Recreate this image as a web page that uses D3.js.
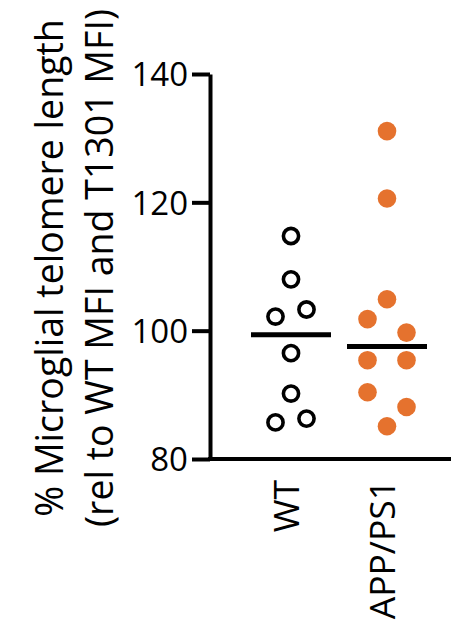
<!DOCTYPE html>
<html>
<head>
<meta charset="utf-8">
<script src="https://cdn.jsdelivr.net/npm/d3@7"></script>
<style>
  html, body { margin: 0; padding: 0; background: #fff; }
  text { font-family: "Open Sans", "Noto Sans", sans-serif; fill: #000; }
</style>
</head>
<body>
<svg width="451" height="631"></svg>
<script>
// data
const categories = ["WT", "APP/PS1"];
const wtValues = [114.75, 108.0, 102.2, 103.3, 96.5, 90.2, 85.7, 86.3];
const appValues = [131.1, 120.6, 104.9, 101.8, 99.7, 95.4, 95.4, 90.4, 85.1, 88.1];
const yTicks = [80, 100, 120, 140];
const titleLines = ["% Microglial telomere length", "(rel to WT MFI and T1301 MFI)"];

const svg = d3.select("svg");
const width = +svg.attr("width");

const y = d3.scaleLinear().domain([80, 140]).range([459, 74]);
const x = d3.scalePoint().domain(categories).range([291, 387]);

// spread points whose values sit close together (scatter-dot style)
const scatter = (values, step) => {
    const order = d3.range(values.length).sort((a, b) => values[b] - values[a]);
    const groups = [];
    let cur = [order[0]];
    for (let i = 1; i < order.length; i++) {
        if (values[cur[cur.length-1]] - values[order[i]] < 3.05) cur.push(order[i]);
        else { groups.push(cur); cur = [order[i]]; }
    }
    groups.push(cur);
    const offsets = new Array(values.length).fill(0);
    groups.forEach(g => {
        g.sort((a, b) => a - b);
        const k = g.length;
        let slots = d3.range(-Math.floor(k/2), Math.floor(k/2) + 1);
        if (k % 2 === 0) slots = slots.filter(s => s !== 0);
        g.forEach((idx, i) => offsets[idx] = slots[i] * step);
    });
    return values.map((v, i) => ({v, dx: offsets[i]}));
};

// y axis
const yAxis = svg.append("g")
    .attr("transform", "translate(210,0)")
    .call(d3.axisLeft(y).tickValues(yTicks).tickSize(18).tickSizeOuter(0).tickPadding(4));
yAxis.select(".domain").attr("stroke", "#000").attr("stroke-width", 4);
yAxis.selectAll(".tick line").attr("stroke", "#000").attr("stroke-width", 4);
yAxis.selectAll(".tick text")
    .style("font-family", "'Open Sans', sans-serif")
    .style("font-size", "33px")
    .attr("dy", "0.36em");

// x axis baseline
svg.append("line")
    .attr("x1", 208).attr("x2", width)
    .attr("y1", y(80)).attr("y2", y(80))
    .attr("stroke", "#000").attr("stroke-width", 4);

// category labels
svg.selectAll(".cat").data(categories).join("text")
    .attr("class", "cat")
    .attr("transform", d => `translate(${x(d) + 8},480) rotate(-90)`)
    .attr("text-anchor", "end")
    .style("font-size", "35.5px")
    .text(d => d);

// WT: open circles
svg.append("g").selectAll("circle").data(scatter(wtValues, 15.5)).join("circle")
    .attr("cx", d => x("WT") + d.dx)
    .attr("cy", d => y(d.v))
    .attr("r", 7.6)
    .attr("fill", "#fff")
    .attr("stroke", "#000")
    .attr("stroke-width", 3.6);

// APP/PS1: filled orange circles
svg.append("g").selectAll("circle").data(scatter(appValues, 19.5)).join("circle")
    .attr("cx", d => x("APP/PS1") + d.dx)
    .attr("cy", d => y(d.v))
    .attr("r", 9.3)
    .attr("fill", "#E5722E");

// median lines
[[categories[0], wtValues], [categories[1], appValues]].forEach(([c, vals]) => {
    const m = d3.median(vals);
    svg.append("line")
        .attr("x1", x(c) - 40).attr("x2", x(c) + 40)
        .attr("y1", y(m)).attr("y2", y(m))
        .attr("stroke", "#000").attr("stroke-width", 5);
});

// y title (two lines, rotated)
svg.selectAll(".ytitle").data(titleLines).join("text")
    .attr("class", "ytitle")
    .attr("transform", (d, i) => `translate(${63 + i*50},268) rotate(-90)`)
    .attr("text-anchor", "middle")
    .style("font-size", "37.5px")
    .text(d => d);
</script>
</body>
</html>
